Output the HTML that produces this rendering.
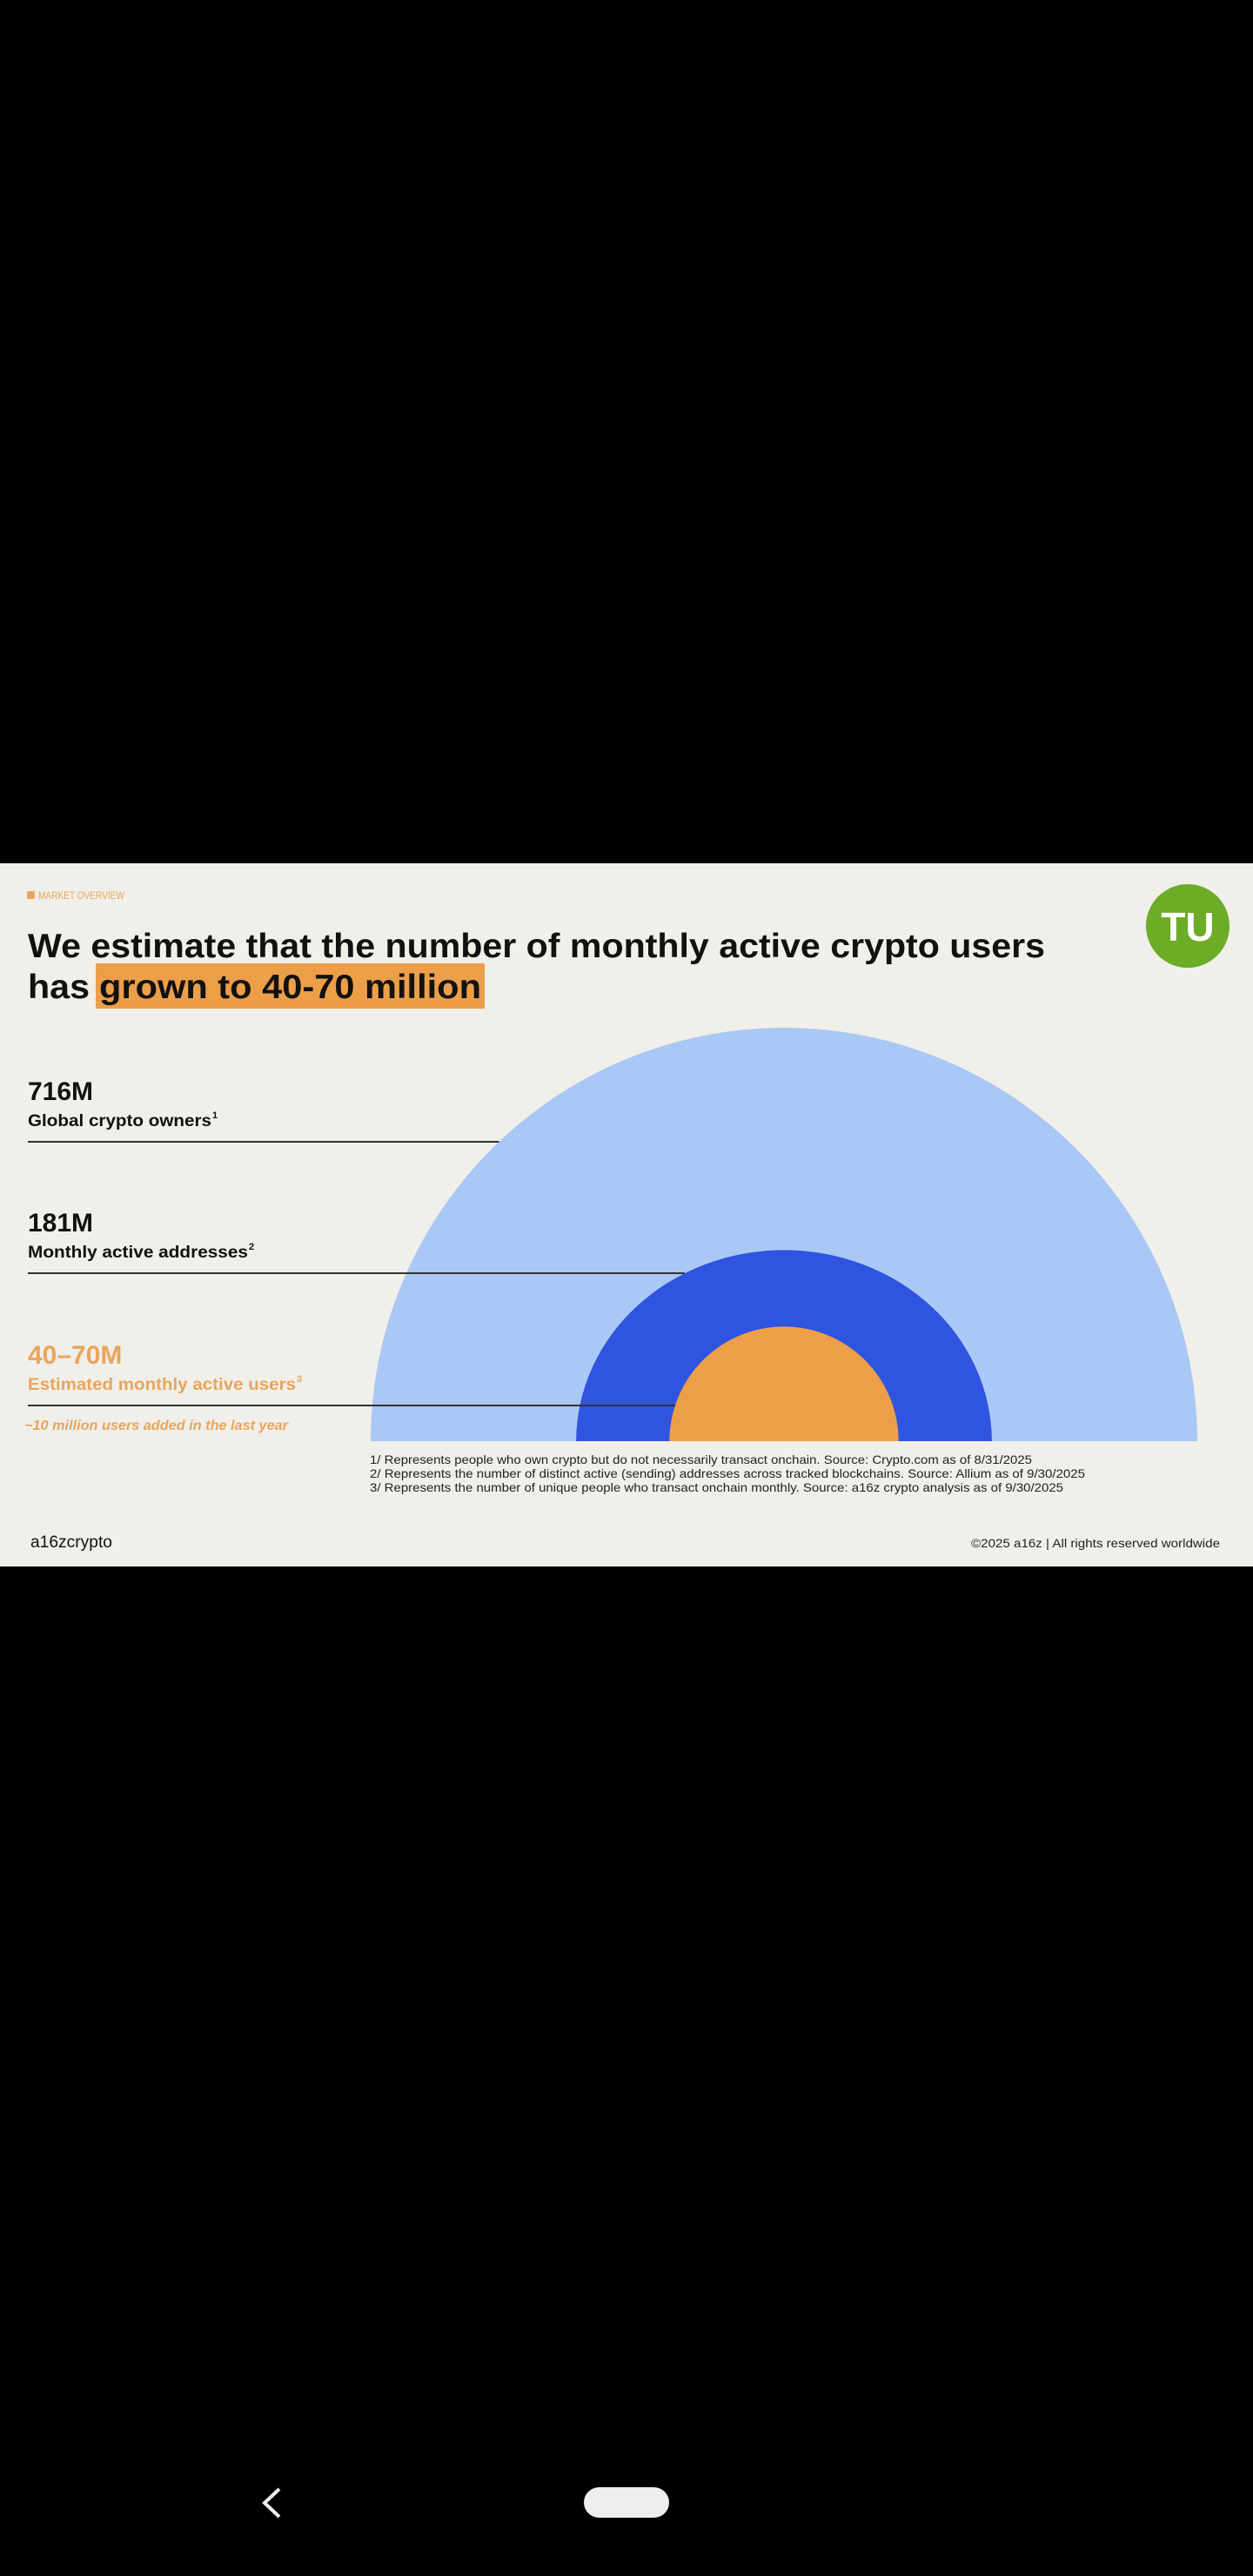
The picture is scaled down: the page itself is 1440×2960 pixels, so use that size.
<!DOCTYPE html>
<html><head><meta charset="utf-8"><style>
html,body{margin:0;padding:0;background:#000;}
svg{display:block;}
text{font-family:"Liberation Sans",sans-serif;}
</style></head><body>
<svg id="page" width="1440" height="2960" viewBox="0 0 1440 2960" xmlns="http://www.w3.org/2000/svg">
<rect x="0" y="0" width="1440" height="2960" fill="#000"/>
<g>
<rect x="0" y="992" width="1440" height="808" fill="#f0efe9"/>
<rect x="31" y="1024" width="9" height="9" rx="2" fill="#e9a55c"/>
<text x="44" y="1033" font-size="12" fill="#e9a55c" textLength="99" lengthAdjust="spacingAndGlyphs">MARKET OVERVIEW</text>
<rect x="110" y="1107" width="447" height="52" fill="#ec9f48"/>
<text x="32" y="1100" font-size="39" font-weight="bold" fill="#111" textLength="1169" lengthAdjust="spacingAndGlyphs">We estimate that the number of monthly active crypto users</text>
<text x="32" y="1147" font-size="39" font-weight="bold" fill="#111"><tspan textLength="71" lengthAdjust="spacingAndGlyphs">has</tspan><tspan x="114" textLength="439" lengthAdjust="spacingAndGlyphs">grown to 40-70 million</tspan></text>
<g>
<circle cx="1365" cy="1064" r="48" fill="#6cac27"/>
<text x="1365" y="1081" font-size="46" font-weight="bold" fill="#fff" text-anchor="middle">TU</text>
</g>
<g id="chart"></g>
<g id="labels"></g>
<text x="28" y="1643" font-size="16" font-style="italic" font-weight="bold" fill="#e9a55c" textLength="303" lengthAdjust="spacingAndGlyphs">~10 million users added in the last year</text>
<text x="425" y="1682" font-size="14" fill="#222" textLength="761" lengthAdjust="spacingAndGlyphs">1/ Represents people who own crypto but do not necessarily transact onchain. Source: Crypto.com as of 8/31/2025</text>
<text x="425" y="1698" font-size="14" fill="#222" textLength="822" lengthAdjust="spacingAndGlyphs">2/ Represents the number of distinct active (sending) addresses across tracked blockchains. Source: Allium as of 9/30/2025</text>
<text x="425" y="1714" font-size="14" fill="#222" textLength="797" lengthAdjust="spacingAndGlyphs">3/ Represents the number of unique people who transact onchain monthly. Source: a16z crypto analysis as of 9/30/2025</text>
<text x="35" y="1778" font-size="19" fill="#111" textLength="94" lengthAdjust="spacingAndGlyphs">a16zcrypto</text>
<text x="1116" y="1778" font-size="14" fill="#222" textLength="286" lengthAdjust="spacingAndGlyphs">©2025 a16z | All rights reserved worldwide</text>
</g>
<g>
<polyline points="321,2860 304,2876 321,2892" fill="none" stroke="#eee" stroke-width="4"/>
<rect x="671" y="2858" width="98" height="35" rx="17.5" fill="#eeeeee"/>
</g>
</svg>
<script>
const categories = ["Global crypto owners", "Monthly active addresses", "Estimated monthly active users"];
const valueLabels = ["716M", "181M", "40–70M"];
const values = [716, 181, 55];
const colors = ["#a9c8f5", "#2f54e0", "#ec9f48"];
const NS = "http://www.w3.org/2000/svg";
const cx = 901, baseY = 1656, maxR = 475;
function rScale(v){ return maxR * Math.sqrt(v / values[0]); }
const chart = document.getElementById('chart');
const labels = document.getElementById('labels');
const lineY = [1312, 1463, 1615];
values.forEach((v, i) => {
  const r = rScale(v);
  const ry = r * (i === 1 ? 0.92 : 1);
  const p = document.createElementNS(NS, 'path');
  p.setAttribute('d', `M${cx - r},${baseY} A${r},${ry} 0 0 1 ${cx + r},${baseY} Z`);
  p.setAttribute('fill', colors[i]);
  
  
  chart.appendChild(p);
});
values.forEach((v, i) => {
  const y = lineY[i];
  // line extends to the edge of the next-inner or own arc
  const r = rScale(v);
  const ry = r * (i === 1 ? 0.92 : 1);
  const dy = baseY - y;
  const dx = dy < ry ? r * Math.sqrt(1 - (dy / ry) * (dy / ry)) : 0;
  let x2 = cx - dx;
  if (i === 2) { x2 = 776; }
  const ln = document.createElementNS(NS, 'line');
  ln.setAttribute('x1', 32); ln.setAttribute('x2', x2);
  ln.setAttribute('y1', y); ln.setAttribute('y2', y);
  ln.setAttribute('stroke', '#333'); ln.setAttribute('stroke-width', '2');
  
  
  labels.appendChild(ln);
  const col = i === 2 ? '#e9a55c' : '#111';
  const t1 = document.createElementNS(NS, 'text');
  t1.setAttribute('x', 32); t1.setAttribute('y', y - 48);
  t1.setAttribute('font-size', '30'); t1.setAttribute('font-weight', 'bold');
  t1.setAttribute('fill', col);
  t1.textContent = valueLabels[i];
  
  
  labels.appendChild(t1);
  const t2 = document.createElementNS(NS, 'text');
  t2.setAttribute('x', 32); t2.setAttribute('y', y - 18);
  t2.setAttribute('font-size', '19'); t2.setAttribute('font-weight', 'bold');
  t2.setAttribute('fill', col);
  const lens = [211, 253, 308];
  t2.setAttribute('textLength', lens[i]); t2.setAttribute('lengthAdjust', 'spacingAndGlyphs');
  t2.textContent = categories[i];
  
  
  labels.appendChild(t2);
  const sup = document.createElementNS(NS, 'text');
  sup.setAttribute('x', 32 + lens[i] + 1); sup.setAttribute('y', y - 27);
  sup.setAttribute('font-size', '11'); sup.setAttribute('font-weight', 'bold');
  sup.setAttribute('fill', col);
  sup.textContent = String(i + 1);
  
  
  labels.appendChild(sup);
});
</script>
</body></html>
